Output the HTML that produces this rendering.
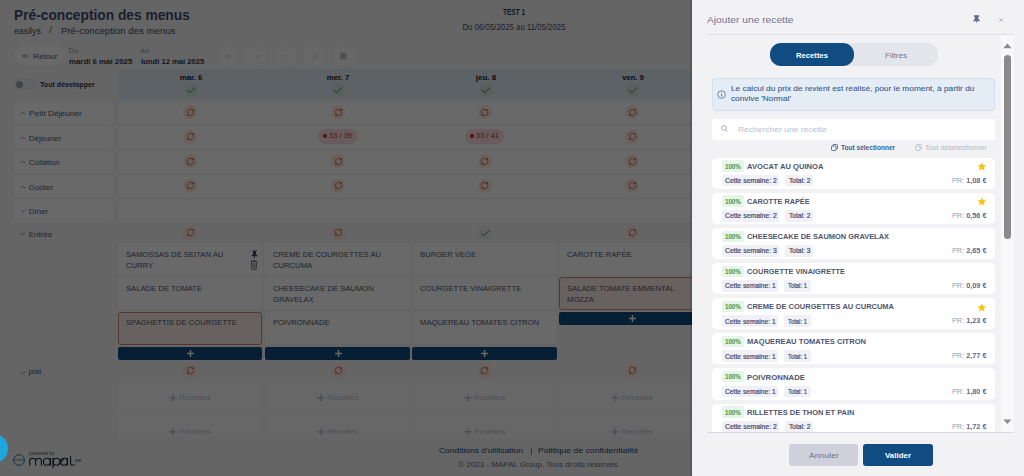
<!DOCTYPE html>
<html><head><meta charset="utf-8"><style>
html,body{margin:0;padding:0;}
body{width:1024px;height:476px;position:relative;overflow:hidden;background:#f4f4f7;font-family:"Liberation Sans", sans-serif;}
.t{position:absolute;white-space:nowrap;}
</style></head><body>
<div id="ta89820dc" class="t" style="left:14.20px;top:9.00px;font-size:13.8px;line-height:13.8px;color:#3e4b70;font-weight:700;letter-spacing:0.000px;transform:scaleX(0.9969);transform-origin:left center;"><span>Pré-conception des menus</span></div>
<div id="t060dee71" class="t" style="left:14.20px;top:27.00px;font-size:9.2px;line-height:9.2px;color:#464b60;font-weight:400;letter-spacing:0.000px;transform:scaleX(0.9539);transform-origin:left center;"><span>easilys</span></div>
<div id="t62899055" class="t" style="left:49.20px;top:26.00px;font-size:9.2px;line-height:9.2px;color:#50566e;font-weight:400;letter-spacing:0.000px;"><span>/</span></div>
<div id="t05dfdb43" class="t" style="left:61.00px;top:27.00px;font-size:9.2px;line-height:9.2px;color:#464b60;font-weight:400;letter-spacing:0.000px;transform:scaleX(1.0467);transform-origin:left center;"><span>Pré-conception des menus</span></div>
<div id="t31cc494d" class="t" style="left:214.10px;width:600px;text-align:center;top:9.00px;font-size:8.2px;line-height:8.2px;color:#1b3a60;font-weight:700;letter-spacing:0.000px;transform:scaleX(0.7995);transform-origin:center center;"><span>TEST 1</span></div>
<div id="t0df7afff" class="t" style="left:214.20px;width:600px;text-align:center;top:24.00px;font-size:8.2px;line-height:8.2px;color:#4a4f63;font-weight:400;letter-spacing:0.000px;transform:scaleX(0.9568);transform-origin:center center;"><span>Du 06/05/2025 au 11/05/2025</span></div>
<div style="position:absolute;left:13.90px;top:46.30px;width:51.80px;height:18.60px;background:#ffffff;border-radius:10px;"></div>
<svg style="position:absolute;left:21.50px;top:52.50px;" width="8" height="6" viewBox="0 0 8 6"><path d="M1 3 H7.2 M3.2 0.9 L1 3 L3.2 5.1" fill="none" stroke="#62687f" stroke-width="0.75"/></svg>
<div id="tf3fa5982" class="t" style="left:33.10px;top:53.00px;font-size:8px;line-height:8px;color:#555b73;font-weight:400;letter-spacing:0.000px;transform:scaleX(1.0243);transform-origin:left center;"><span>Retour</span></div>
<div id="t95f28382" class="t" style="left:68.60px;top:47.00px;font-size:7.8px;line-height:7.8px;color:#9a9fb2;font-weight:400;letter-spacing:0.000px;"><span>Du</span></div>
<div id="t609b806c" class="t" style="left:68.60px;top:58.00px;font-size:7.8px;line-height:7.8px;color:#343a4e;font-weight:700;letter-spacing:0.000px;transform:scaleX(1.0070);transform-origin:left center;"><span>mardi 6 mai 2025</span></div>
<div id="tc37767ce" class="t" style="left:140.60px;top:47.00px;font-size:7.8px;line-height:7.8px;color:#9a9fb2;font-weight:400;letter-spacing:0.000px;"><span>au</span></div>
<div id="taf931af7" class="t" style="left:140.60px;top:58.00px;font-size:7.8px;line-height:7.8px;color:#343a4e;font-weight:700;letter-spacing:0.000px;transform:scaleX(0.9802);transform-origin:left center;"><span>lundi 12 mai 2025</span></div>
<div style="position:absolute;left:218.30px;top:45.00px;width:22.00px;height:22.00px;background:#f9f9fb;border-radius:50%;"></div>
<div style="position:absolute;left:246.40px;top:45.00px;width:22.00px;height:22.00px;background:#f9f9fb;border-radius:50%;"></div>
<div style="position:absolute;left:275.20px;top:45.00px;width:22.00px;height:22.00px;background:#f9f9fb;border-radius:50%;"></div>
<div style="position:absolute;left:303.40px;top:45.00px;width:22.00px;height:22.00px;background:#f9f9fb;border-radius:50%;"></div>
<div style="position:absolute;left:332.00px;top:45.00px;width:22.00px;height:22.00px;background:#f9f9fb;border-radius:50%;"></div>
<svg style="position:absolute;left:226.30px;top:53.80px;" width="6" height="5" viewBox="0 0 6 5"><path d="M2.6 0.5 L0.6 2.4 L2.6 4.3 M5.0 0.5 L3.0 2.4 L5.0 4.3" fill="none" stroke="#bcc2d8" stroke-width="0.9"/></svg>
<svg style="position:absolute;left:255.80px;top:53.80px;" width="4" height="5" viewBox="0 0 4 5"><path d="M2.9 0.5 L0.9 2.4 L2.9 4.3" fill="none" stroke="#bcc2d8" stroke-width="0.9"/></svg>
<svg style="position:absolute;left:284.40px;top:53.80px;" width="4" height="5" viewBox="0 0 4 5"><path d="M1.0 0.5 L3.0 2.4 L1.0 4.3" fill="none" stroke="#bcc2d8" stroke-width="0.9"/></svg>
<svg style="position:absolute;left:311.60px;top:53.80px;" width="6" height="5" viewBox="0 0 6 5"><path d="M0.6 0.5 L2.6 2.4 L0.6 4.3 M3.0 0.5 L5.0 2.4 L3.0 4.3" fill="none" stroke="#bcc2d8" stroke-width="0.9"/></svg>
<svg style="position:absolute;left:339.50px;top:52.30px;" width="7" height="7.5" viewBox="0 0 7 7.5"><rect x="0.3" y="1.2" width="6.3" height="6" rx="0.8" fill="#bcc2d8"/><path d="M1.8 0.2 V1.8 M5.1 0.2 V1.8" stroke="#bcc2d8" stroke-width="0.8"/></svg>
<div style="position:absolute;left:13.90px;top:79.30px;width:22.00px;height:10.20px;background:#f0f0f4;border:0.6px solid #e2e3ea;border-radius:6px;box-sizing:border-box;"></div>
<div style="position:absolute;left:15.60px;top:80.50px;width:7.80px;height:7.80px;background:#a0a5b9;border-radius:50%;"></div>
<div id="t97cba002" class="t" style="left:39.80px;top:81.00px;font-size:7.7px;line-height:7.7px;color:#30364a;font-weight:700;letter-spacing:0.000px;transform:scaleX(0.9235);transform-origin:left center;"><span>Tout développer</span></div>
<div style="position:absolute;left:117.50px;top:69.40px;width:600.00px;height:29.60px;background:#e0edf6;border-radius:5px 0 0 5px;"></div>
<div id="te4d3015c" class="t" style="left:-108.80px;width:600px;text-align:center;top:74.00px;font-size:7.6px;line-height:7.6px;color:#1c2130;font-weight:700;letter-spacing:0.000px;transform:scaleX(1.0333);transform-origin:center center;"><span>mar. 6</span></div>
<div style="position:absolute;left:184.20px;top:82.70px;width:14.00px;height:14.00px;background:#d5e8e0;border-radius:50%;box-sizing:border-box;"></div>
<svg style="position:absolute;left:186.20px;top:84.70px;" width="10" height="10" viewBox="0 0 10 10"><path d="M1.5 5.5 L4.0 7.6 L8.8 2.8" fill="none" stroke="#3b5872" stroke-width="0.85" stroke-linecap="round" stroke-linejoin="round"/></svg>
<div id="ta6617321" class="t" style="left:38.40px;width:600px;text-align:center;top:74.00px;font-size:7.6px;line-height:7.6px;color:#1c2130;font-weight:700;letter-spacing:0.000px;transform:scaleX(1.0242);transform-origin:center center;"><span>mer. 7</span></div>
<div style="position:absolute;left:331.40px;top:82.70px;width:14.00px;height:14.00px;background:#d5e8e0;border-radius:50%;box-sizing:border-box;"></div>
<svg style="position:absolute;left:333.40px;top:84.70px;" width="10" height="10" viewBox="0 0 10 10"><path d="M1.5 5.5 L4.0 7.6 L8.8 2.8" fill="none" stroke="#3b5872" stroke-width="0.85" stroke-linecap="round" stroke-linejoin="round"/></svg>
<div id="td271ef08" class="t" style="left:185.60px;width:600px;text-align:center;top:74.00px;font-size:7.6px;line-height:7.6px;color:#1c2130;font-weight:700;letter-spacing:0.000px;transform:scaleX(1.0504);transform-origin:center center;"><span>jeu. 8</span></div>
<div style="position:absolute;left:478.60px;top:82.70px;width:14.00px;height:14.00px;background:#d5e8e0;border-radius:50%;box-sizing:border-box;"></div>
<svg style="position:absolute;left:480.60px;top:84.70px;" width="10" height="10" viewBox="0 0 10 10"><path d="M1.5 5.5 L4.0 7.6 L8.8 2.8" fill="none" stroke="#3b5872" stroke-width="0.85" stroke-linecap="round" stroke-linejoin="round"/></svg>
<div id="t80e0eed1" class="t" style="left:332.90px;width:600px;text-align:center;top:74.00px;font-size:7.6px;line-height:7.6px;color:#1c2130;font-weight:700;letter-spacing:0.000px;transform:scaleX(1.0032);transform-origin:center center;"><span>ven. 9</span></div>
<div style="position:absolute;left:625.90px;top:82.70px;width:14.00px;height:14.00px;background:#d5e8e0;border-radius:50%;box-sizing:border-box;"></div>
<svg style="position:absolute;left:627.90px;top:84.70px;" width="10" height="10" viewBox="0 0 10 10"><path d="M1.5 5.5 L4.0 7.6 L8.8 2.8" fill="none" stroke="#3b5872" stroke-width="0.85" stroke-linecap="round" stroke-linejoin="round"/></svg>
<div style="position:absolute;left:13.80px;top:101.80px;width:99.20px;height:21.80px;background:#ffffff;border-radius:4px;"></div>
<div style="position:absolute;left:117.50px;top:101.80px;width:600.00px;height:21.80px;background:#ffffff;border-radius:4px 0 0 4px;"></div>
<svg style="position:absolute;left:19.50px;top:110.95px;" width="6" height="4" viewBox="0 0 6 4"><path d="M0.8 3.3 L3 1 L5.2 3.3" fill="none" stroke="#858aa2" stroke-width="0.8"/></svg>
<div id="te3711d2a" class="t" style="left:28.70px;top:110.00px;font-size:8.0px;line-height:8.0px;color:#555a72;font-weight:400;letter-spacing:0.000px;transform:scaleX(1.0433);transform-origin:left center;"><span>Petit Déjeuner</span></div>
<div style="position:absolute;left:183.10px;top:105.00px;width:14.00px;height:14.00px;background:#fde8dc;border-radius:50%;"></div>
<svg style="position:absolute;left:185.60px;top:107.50px;" width="9" height="9" viewBox="0 0 9 9"><path d="M1.27 5.19 A3.3 3.3 0 0 1 6.53 1.90 M7.73 3.81 A3.3 3.3 0 0 1 2.47 7.10" fill="none" stroke="#e0503a" stroke-width="0.85"/><path d="M8.02 3.06 L7.50 0.66 L5.56 3.14 Z" fill="#e0503a"/><path d="M0.98 5.94 L1.50 8.34 L3.44 5.86 Z" fill="#e0503a"/></svg>
<div style="position:absolute;left:331.00px;top:105.00px;width:14.00px;height:14.00px;background:#fde8dc;border-radius:50%;"></div>
<svg style="position:absolute;left:333.50px;top:107.50px;" width="9" height="9" viewBox="0 0 9 9"><path d="M1.27 5.19 A3.3 3.3 0 0 1 6.53 1.90 M7.73 3.81 A3.3 3.3 0 0 1 2.47 7.10" fill="none" stroke="#e0503a" stroke-width="0.85"/><path d="M8.02 3.06 L7.50 0.66 L5.56 3.14 Z" fill="#e0503a"/><path d="M0.98 5.94 L1.50 8.34 L3.44 5.86 Z" fill="#e0503a"/></svg>
<div style="position:absolute;left:477.90px;top:105.00px;width:14.00px;height:14.00px;background:#fde8dc;border-radius:50%;"></div>
<svg style="position:absolute;left:480.40px;top:107.50px;" width="9" height="9" viewBox="0 0 9 9"><path d="M1.27 5.19 A3.3 3.3 0 0 1 6.53 1.90 M7.73 3.81 A3.3 3.3 0 0 1 2.47 7.10" fill="none" stroke="#e0503a" stroke-width="0.85"/><path d="M8.02 3.06 L7.50 0.66 L5.56 3.14 Z" fill="#e0503a"/><path d="M0.98 5.94 L1.50 8.34 L3.44 5.86 Z" fill="#e0503a"/></svg>
<div style="position:absolute;left:625.30px;top:105.00px;width:14.00px;height:14.00px;background:#fde8dc;border-radius:50%;"></div>
<svg style="position:absolute;left:627.80px;top:107.50px;" width="9" height="9" viewBox="0 0 9 9"><path d="M1.27 5.19 A3.3 3.3 0 0 1 6.53 1.90 M7.73 3.81 A3.3 3.3 0 0 1 2.47 7.10" fill="none" stroke="#e0503a" stroke-width="0.85"/><path d="M8.02 3.06 L7.50 0.66 L5.56 3.14 Z" fill="#e0503a"/><path d="M0.98 5.94 L1.50 8.34 L3.44 5.86 Z" fill="#e0503a"/></svg>
<div style="position:absolute;left:13.80px;top:126.35px;width:99.20px;height:21.80px;background:#ffffff;border-radius:4px;"></div>
<div style="position:absolute;left:117.50px;top:126.35px;width:600.00px;height:21.80px;background:#ffffff;border-radius:4px 0 0 4px;"></div>
<svg style="position:absolute;left:19.50px;top:135.50px;" width="6" height="4" viewBox="0 0 6 4"><path d="M0.8 3.3 L3 1 L5.2 3.3" fill="none" stroke="#858aa2" stroke-width="0.8"/></svg>
<div id="tca18db66" class="t" style="left:28.70px;top:135.00px;font-size:8.0px;line-height:8.0px;color:#555a72;font-weight:400;letter-spacing:0.000px;"><span>Déjeuner</span></div>
<div style="position:absolute;left:183.10px;top:129.55px;width:14.00px;height:14.00px;background:#fde8dc;border-radius:50%;"></div>
<svg style="position:absolute;left:185.60px;top:132.05px;" width="9" height="9" viewBox="0 0 9 9"><path d="M1.27 5.19 A3.3 3.3 0 0 1 6.53 1.90 M7.73 3.81 A3.3 3.3 0 0 1 2.47 7.10" fill="none" stroke="#e0503a" stroke-width="0.85"/><path d="M8.02 3.06 L7.50 0.66 L5.56 3.14 Z" fill="#e0503a"/><path d="M0.98 5.94 L1.50 8.34 L3.44 5.86 Z" fill="#e0503a"/></svg>
<div style="position:absolute;left:318.20px;top:129.05px;width:38.60px;height:14.60px;background:#fbdcdc;border-radius:8px;"></div>
<div style="position:absolute;left:323.00px;top:134.45px;width:3.80px;height:3.80px;background:#c62828;border-radius:50%;"></div>
<div id="t2a6577d5" class="t" style="left:329.10px;top:132.00px;font-size:7.4px;line-height:7.4px;color:#c93636;font-weight:400;letter-spacing:0.000px;transform:scaleX(1.0173);transform-origin:left center;"><span>33 / 39</span></div>
<div style="position:absolute;left:465.30px;top:129.05px;width:38.60px;height:14.60px;background:#fbdcdc;border-radius:8px;"></div>
<div style="position:absolute;left:470.10px;top:134.45px;width:3.80px;height:3.80px;background:#c62828;border-radius:50%;"></div>
<div id="t11b5916c" class="t" style="left:476.20px;top:132.00px;font-size:7.4px;line-height:7.4px;color:#c93636;font-weight:400;letter-spacing:0.000px;transform:scaleX(1.0173);transform-origin:left center;"><span>33 / 41</span></div>
<div style="position:absolute;left:625.30px;top:129.55px;width:14.00px;height:14.00px;background:#fde8dc;border-radius:50%;"></div>
<svg style="position:absolute;left:627.80px;top:132.05px;" width="9" height="9" viewBox="0 0 9 9"><path d="M1.27 5.19 A3.3 3.3 0 0 1 6.53 1.90 M7.73 3.81 A3.3 3.3 0 0 1 2.47 7.10" fill="none" stroke="#e0503a" stroke-width="0.85"/><path d="M8.02 3.06 L7.50 0.66 L5.56 3.14 Z" fill="#e0503a"/><path d="M0.98 5.94 L1.50 8.34 L3.44 5.86 Z" fill="#e0503a"/></svg>
<div style="position:absolute;left:13.80px;top:150.90px;width:99.20px;height:21.80px;background:#ffffff;border-radius:4px;"></div>
<div style="position:absolute;left:117.50px;top:150.90px;width:600.00px;height:21.80px;background:#ffffff;border-radius:4px 0 0 4px;"></div>
<svg style="position:absolute;left:19.50px;top:160.05px;" width="6" height="4" viewBox="0 0 6 4"><path d="M0.8 3.3 L3 1 L5.2 3.3" fill="none" stroke="#858aa2" stroke-width="0.8"/></svg>
<div id="t9a60d03d" class="t" style="left:28.70px;top:159.00px;font-size:8.0px;line-height:8.0px;color:#555a72;font-weight:400;letter-spacing:0.000px;"><span>Collation</span></div>
<div style="position:absolute;left:183.10px;top:154.10px;width:14.00px;height:14.00px;background:#fde8dc;border-radius:50%;"></div>
<svg style="position:absolute;left:185.60px;top:156.60px;" width="9" height="9" viewBox="0 0 9 9"><path d="M1.27 5.19 A3.3 3.3 0 0 1 6.53 1.90 M7.73 3.81 A3.3 3.3 0 0 1 2.47 7.10" fill="none" stroke="#e0503a" stroke-width="0.85"/><path d="M8.02 3.06 L7.50 0.66 L5.56 3.14 Z" fill="#e0503a"/><path d="M0.98 5.94 L1.50 8.34 L3.44 5.86 Z" fill="#e0503a"/></svg>
<div style="position:absolute;left:331.00px;top:154.10px;width:14.00px;height:14.00px;background:#fde8dc;border-radius:50%;"></div>
<svg style="position:absolute;left:333.50px;top:156.60px;" width="9" height="9" viewBox="0 0 9 9"><path d="M1.27 5.19 A3.3 3.3 0 0 1 6.53 1.90 M7.73 3.81 A3.3 3.3 0 0 1 2.47 7.10" fill="none" stroke="#e0503a" stroke-width="0.85"/><path d="M8.02 3.06 L7.50 0.66 L5.56 3.14 Z" fill="#e0503a"/><path d="M0.98 5.94 L1.50 8.34 L3.44 5.86 Z" fill="#e0503a"/></svg>
<div style="position:absolute;left:477.90px;top:154.10px;width:14.00px;height:14.00px;background:#fde8dc;border-radius:50%;"></div>
<svg style="position:absolute;left:480.40px;top:156.60px;" width="9" height="9" viewBox="0 0 9 9"><path d="M1.27 5.19 A3.3 3.3 0 0 1 6.53 1.90 M7.73 3.81 A3.3 3.3 0 0 1 2.47 7.10" fill="none" stroke="#e0503a" stroke-width="0.85"/><path d="M8.02 3.06 L7.50 0.66 L5.56 3.14 Z" fill="#e0503a"/><path d="M0.98 5.94 L1.50 8.34 L3.44 5.86 Z" fill="#e0503a"/></svg>
<div style="position:absolute;left:625.30px;top:154.10px;width:14.00px;height:14.00px;background:#fde8dc;border-radius:50%;"></div>
<svg style="position:absolute;left:627.80px;top:156.60px;" width="9" height="9" viewBox="0 0 9 9"><path d="M1.27 5.19 A3.3 3.3 0 0 1 6.53 1.90 M7.73 3.81 A3.3 3.3 0 0 1 2.47 7.10" fill="none" stroke="#e0503a" stroke-width="0.85"/><path d="M8.02 3.06 L7.50 0.66 L5.56 3.14 Z" fill="#e0503a"/><path d="M0.98 5.94 L1.50 8.34 L3.44 5.86 Z" fill="#e0503a"/></svg>
<div style="position:absolute;left:13.80px;top:175.45px;width:99.20px;height:21.80px;background:#ffffff;border-radius:4px;"></div>
<div style="position:absolute;left:117.50px;top:175.45px;width:600.00px;height:21.80px;background:#ffffff;border-radius:4px 0 0 4px;"></div>
<svg style="position:absolute;left:19.50px;top:184.60px;" width="6" height="4" viewBox="0 0 6 4"><path d="M0.8 3.3 L3 1 L5.2 3.3" fill="none" stroke="#858aa2" stroke-width="0.8"/></svg>
<div id="t4989e19c" class="t" style="left:28.70px;top:184.00px;font-size:8.0px;line-height:8.0px;color:#555a72;font-weight:400;letter-spacing:0.000px;"><span>Goûter</span></div>
<div style="position:absolute;left:183.10px;top:178.65px;width:14.00px;height:14.00px;background:#fde8dc;border-radius:50%;"></div>
<svg style="position:absolute;left:185.60px;top:181.15px;" width="9" height="9" viewBox="0 0 9 9"><path d="M1.27 5.19 A3.3 3.3 0 0 1 6.53 1.90 M7.73 3.81 A3.3 3.3 0 0 1 2.47 7.10" fill="none" stroke="#e0503a" stroke-width="0.85"/><path d="M8.02 3.06 L7.50 0.66 L5.56 3.14 Z" fill="#e0503a"/><path d="M0.98 5.94 L1.50 8.34 L3.44 5.86 Z" fill="#e0503a"/></svg>
<div style="position:absolute;left:331.00px;top:178.65px;width:14.00px;height:14.00px;background:#fde8dc;border-radius:50%;"></div>
<svg style="position:absolute;left:333.50px;top:181.15px;" width="9" height="9" viewBox="0 0 9 9"><path d="M1.27 5.19 A3.3 3.3 0 0 1 6.53 1.90 M7.73 3.81 A3.3 3.3 0 0 1 2.47 7.10" fill="none" stroke="#e0503a" stroke-width="0.85"/><path d="M8.02 3.06 L7.50 0.66 L5.56 3.14 Z" fill="#e0503a"/><path d="M0.98 5.94 L1.50 8.34 L3.44 5.86 Z" fill="#e0503a"/></svg>
<div style="position:absolute;left:477.90px;top:178.65px;width:14.00px;height:14.00px;background:#fde8dc;border-radius:50%;"></div>
<svg style="position:absolute;left:480.40px;top:181.15px;" width="9" height="9" viewBox="0 0 9 9"><path d="M1.27 5.19 A3.3 3.3 0 0 1 6.53 1.90 M7.73 3.81 A3.3 3.3 0 0 1 2.47 7.10" fill="none" stroke="#e0503a" stroke-width="0.85"/><path d="M8.02 3.06 L7.50 0.66 L5.56 3.14 Z" fill="#e0503a"/><path d="M0.98 5.94 L1.50 8.34 L3.44 5.86 Z" fill="#e0503a"/></svg>
<div style="position:absolute;left:625.30px;top:178.65px;width:14.00px;height:14.00px;background:#fde8dc;border-radius:50%;"></div>
<svg style="position:absolute;left:627.80px;top:181.15px;" width="9" height="9" viewBox="0 0 9 9"><path d="M1.27 5.19 A3.3 3.3 0 0 1 6.53 1.90 M7.73 3.81 A3.3 3.3 0 0 1 2.47 7.10" fill="none" stroke="#e0503a" stroke-width="0.85"/><path d="M8.02 3.06 L7.50 0.66 L5.56 3.14 Z" fill="#e0503a"/><path d="M0.98 5.94 L1.50 8.34 L3.44 5.86 Z" fill="#e0503a"/></svg>
<div style="position:absolute;left:13.80px;top:200.00px;width:99.20px;height:21.80px;background:#ffffff;border-radius:4px;"></div>
<div style="position:absolute;left:117.50px;top:200.00px;width:600.00px;height:21.80px;background:#ffffff;border-radius:4px 0 0 4px;"></div>
<svg style="position:absolute;left:19.50px;top:209.40px;" width="6" height="4" viewBox="0 0 6 4"><path d="M0.8 0.8 L3 3.1 L5.2 0.8" fill="none" stroke="#858aa2" stroke-width="0.8"/></svg>
<div id="tffb6e803" class="t" style="left:28.70px;top:208.00px;font-size:8.0px;line-height:8.0px;color:#555a72;font-weight:400;letter-spacing:0.000px;"><span>Dîner</span></div>
<svg style="position:absolute;left:19.50px;top:231.70px;" width="6" height="4" viewBox="0 0 6 4"><path d="M0.8 0.8 L3 3.1 L5.2 0.8" fill="none" stroke="#858aa2" stroke-width="0.8"/></svg>
<div id="tfeb2701d" class="t" style="left:28.70px;top:231.00px;font-size:8.0px;line-height:8.0px;color:#555a72;font-weight:400;letter-spacing:0.000px;"><span>Entrée</span></div>
<div style="position:absolute;left:183.10px;top:225.80px;width:14.00px;height:14.00px;background:#fde8dc;border-radius:50%;"></div>
<svg style="position:absolute;left:185.60px;top:228.30px;" width="9" height="9" viewBox="0 0 9 9"><path d="M1.27 5.19 A3.3 3.3 0 0 1 6.53 1.90 M7.73 3.81 A3.3 3.3 0 0 1 2.47 7.10" fill="none" stroke="#e0503a" stroke-width="0.85"/><path d="M8.02 3.06 L7.50 0.66 L5.56 3.14 Z" fill="#e0503a"/><path d="M0.98 5.94 L1.50 8.34 L3.44 5.86 Z" fill="#e0503a"/></svg>
<div style="position:absolute;left:331.00px;top:225.80px;width:14.00px;height:14.00px;background:#fde8dc;border-radius:50%;"></div>
<svg style="position:absolute;left:333.50px;top:228.30px;" width="9" height="9" viewBox="0 0 9 9"><path d="M1.27 5.19 A3.3 3.3 0 0 1 6.53 1.90 M7.73 3.81 A3.3 3.3 0 0 1 2.47 7.10" fill="none" stroke="#e0503a" stroke-width="0.85"/><path d="M8.02 3.06 L7.50 0.66 L5.56 3.14 Z" fill="#e0503a"/><path d="M0.98 5.94 L1.50 8.34 L3.44 5.86 Z" fill="#e0503a"/></svg>
<div style="position:absolute;left:477.90px;top:225.80px;width:14.00px;height:14.00px;background:#e9f3ea;border-radius:50%;box-sizing:border-box;"></div>
<svg style="position:absolute;left:479.90px;top:227.80px;" width="10" height="10" viewBox="0 0 10 10"><path d="M1.5 5.5 L4.0 7.6 L8.8 2.8" fill="none" stroke="#3b5872" stroke-width="0.85" stroke-linecap="round" stroke-linejoin="round"/></svg>
<div style="position:absolute;left:625.30px;top:225.80px;width:14.00px;height:14.00px;background:#fde8dc;border-radius:50%;"></div>
<svg style="position:absolute;left:627.80px;top:228.30px;" width="9" height="9" viewBox="0 0 9 9"><path d="M1.27 5.19 A3.3 3.3 0 0 1 6.53 1.90 M7.73 3.81 A3.3 3.3 0 0 1 2.47 7.10" fill="none" stroke="#e0503a" stroke-width="0.85"/><path d="M8.02 3.06 L7.50 0.66 L5.56 3.14 Z" fill="#e0503a"/><path d="M0.98 5.94 L1.50 8.34 L3.44 5.86 Z" fill="#e0503a"/></svg>
<div style="position:absolute;left:117.50px;top:243.20px;width:144.50px;height:31.80px;background:#ffffff;border-radius:3px;"></div>
<div id="t2aff71fd" class="t" style="left:125.50px;top:251.00px;font-size:8.0px;line-height:8.0px;color:#50556d;font-weight:400;letter-spacing:0.000px;transform:scaleX(0.9570);transform-origin:left center;"><span>SAMOSSAS DE SEITAN AU</span></div>
<div id="ta2bb0d54" class="t" style="left:125.50px;top:262.00px;font-size:8.0px;line-height:8.0px;color:#50556d;font-weight:400;letter-spacing:0.000px;transform:scaleX(0.9570);transform-origin:left center;"><span>CURRY</span></div>
<div style="position:absolute;left:117.50px;top:277.30px;width:144.50px;height:31.80px;background:#ffffff;border-radius:3px;"></div>
<div id="td7950acd" class="t" style="left:125.50px;top:285.00px;font-size:8.0px;line-height:8.0px;color:#50556d;font-weight:400;letter-spacing:0.000px;transform:scaleX(0.9570);transform-origin:left center;"><span>SALADE DE TOMATE</span></div>
<div style="position:absolute;left:117.50px;top:312.00px;width:144.50px;height:32.70px;background:#fbeee6;border:1.1px solid #d6836c;border-radius:3px;box-sizing:border-box;"></div>
<div id="te2adfee0" class="t" style="left:125.50px;top:319.00px;font-size:8.0px;line-height:8.0px;color:#50556d;font-weight:400;letter-spacing:0.000px;transform:scaleX(0.9570);transform-origin:left center;"><span>SPAGHETTIS DE COURGETTE</span></div>
<div style="position:absolute;left:117.50px;top:346.90px;width:144.50px;height:13.00px;background:#104c82;border-radius:2px;"></div>
<svg style="position:absolute;left:186.60px;top:349.80px;" width="7" height="7" viewBox="0 0 7 7"><path d="M0.1 3.5 H6.9 M3.5 0.1 V6.9" stroke="#ffffff" stroke-width="1.45"/></svg>
<div style="position:absolute;left:265.00px;top:243.20px;width:144.50px;height:31.80px;background:#ffffff;border-radius:3px;"></div>
<div id="t12dad2a6" class="t" style="left:273.00px;top:251.00px;font-size:8.0px;line-height:8.0px;color:#50556d;font-weight:400;letter-spacing:0.000px;transform:scaleX(0.9570);transform-origin:left center;"><span>CREME DE COURGETTES AU</span></div>
<div id="t9b962a5d" class="t" style="left:273.00px;top:262.00px;font-size:8.0px;line-height:8.0px;color:#50556d;font-weight:400;letter-spacing:0.000px;transform:scaleX(0.9570);transform-origin:left center;"><span>CURCUMA</span></div>
<div style="position:absolute;left:265.00px;top:277.30px;width:144.50px;height:31.80px;background:#ffffff;border-radius:3px;"></div>
<div id="tc7bd4e62" class="t" style="left:273.00px;top:285.00px;font-size:8.0px;line-height:8.0px;color:#50556d;font-weight:400;letter-spacing:0.000px;transform:scaleX(0.9570);transform-origin:left center;"><span>CHEESECAKE DE SAUMON</span></div>
<div id="t38479225" class="t" style="left:273.00px;top:296.00px;font-size:8.0px;line-height:8.0px;color:#50556d;font-weight:400;letter-spacing:0.000px;transform:scaleX(0.9570);transform-origin:left center;"><span>GRAVELAX</span></div>
<div style="position:absolute;left:265.00px;top:312.00px;width:144.50px;height:31.80px;background:#ffffff;border-radius:3px;"></div>
<div id="tc76026b2" class="t" style="left:273.00px;top:319.00px;font-size:8.0px;line-height:8.0px;color:#50556d;font-weight:400;letter-spacing:0.000px;transform:scaleX(0.9570);transform-origin:left center;"><span>POIVRONNADE</span></div>
<div style="position:absolute;left:265.00px;top:346.90px;width:144.50px;height:13.00px;background:#104c82;border-radius:2px;"></div>
<svg style="position:absolute;left:334.50px;top:349.80px;" width="7" height="7" viewBox="0 0 7 7"><path d="M0.1 3.5 H6.9 M3.5 0.1 V6.9" stroke="#ffffff" stroke-width="1.45"/></svg>
<div style="position:absolute;left:412.30px;top:243.20px;width:144.50px;height:31.80px;background:#ffffff;border-radius:3px;"></div>
<div id="tf57d0699" class="t" style="left:420.30px;top:251.00px;font-size:8.0px;line-height:8.0px;color:#50556d;font-weight:400;letter-spacing:0.000px;transform:scaleX(0.9570);transform-origin:left center;"><span>BURGER VEGE</span></div>
<div style="position:absolute;left:412.30px;top:277.30px;width:144.50px;height:31.80px;background:#ffffff;border-radius:3px;"></div>
<div id="t899cc942" class="t" style="left:420.30px;top:285.00px;font-size:8.0px;line-height:8.0px;color:#50556d;font-weight:400;letter-spacing:0.000px;transform:scaleX(0.9570);transform-origin:left center;"><span>COURGETTE VINAIGRETTE</span></div>
<div style="position:absolute;left:412.30px;top:312.00px;width:144.50px;height:31.80px;background:#ffffff;border-radius:3px;"></div>
<div id="t7b432ded" class="t" style="left:420.30px;top:319.00px;font-size:8.0px;line-height:8.0px;color:#50556d;font-weight:400;letter-spacing:0.000px;transform:scaleX(0.9570);transform-origin:left center;"><span>MAQUEREAU TOMATES CITRON</span></div>
<div style="position:absolute;left:412.30px;top:346.90px;width:144.50px;height:13.00px;background:#104c82;border-radius:2px;"></div>
<svg style="position:absolute;left:481.40px;top:349.80px;" width="7" height="7" viewBox="0 0 7 7"><path d="M0.1 3.5 H6.9 M3.5 0.1 V6.9" stroke="#ffffff" stroke-width="1.45"/></svg>
<div style="position:absolute;left:559.10px;top:243.20px;width:144.50px;height:31.80px;background:#ffffff;border-radius:3px;"></div>
<div id="tb08beb29" class="t" style="left:567.10px;top:251.00px;font-size:8.0px;line-height:8.0px;color:#50556d;font-weight:400;letter-spacing:0.000px;transform:scaleX(0.9570);transform-origin:left center;"><span>CAROTTE RAPÉE</span></div>
<div style="position:absolute;left:559.10px;top:277.30px;width:144.50px;height:32.70px;background:#fbeee6;border:1.1px solid #d6836c;border-radius:3px;box-sizing:border-box;"></div>
<div id="t90c873f9" class="t" style="left:567.10px;top:285.00px;font-size:8.0px;line-height:8.0px;color:#50556d;font-weight:400;letter-spacing:0.000px;transform:scaleX(0.9570);transform-origin:left center;"><span>SALADE TOMATE EMMENTAL</span></div>
<div id="t1f174a96" class="t" style="left:567.10px;top:296.00px;font-size:8.0px;line-height:8.0px;color:#50556d;font-weight:400;letter-spacing:0.000px;transform:scaleX(0.9570);transform-origin:left center;"><span>MOZZA</span></div>
<div style="position:absolute;left:559.10px;top:312.30px;width:144.50px;height:13.00px;background:#104c82;border-radius:2px;"></div>
<svg style="position:absolute;left:628.80px;top:315.20px;" width="7" height="7" viewBox="0 0 7 7"><path d="M0.1 3.5 H6.9 M3.5 0.1 V6.9" stroke="#ffffff" stroke-width="1.45"/></svg>
<svg style="position:absolute;left:250.50px;top:249.60px;" width="7" height="9" viewBox="0 0 7 9"><path d="M1.3 0.5 H5.7 V1.5 L5 1.6 V4 L6.4 5.6 V6.3 H3.9 V8.6 L3.5 8.9 L3.1 8.6 V6.3 H0.6 V5.6 L2 4 V1.6 L1.3 1.5 Z" fill="#474d66"/></svg>
<svg style="position:absolute;left:250.00px;top:259.80px;" width="8" height="10" viewBox="0 0 8 10"><path d="M0.6 1.6 H7.4 M2.8 1.6 V0.6 H5.2 V1.6 M1.3 1.6 L1.8 9.3 H6.2 L6.7 1.6 M3.2 3.2 V7.8 M4.8 3.2 V7.8" fill="none" stroke="#50566e" stroke-width="0.75"/></svg>
<svg style="position:absolute;left:19.50px;top:370.60px;" width="6" height="4" viewBox="0 0 6 4"><path d="M0.8 0.8 L3 3.1 L5.2 0.8" fill="none" stroke="#858aa2" stroke-width="0.8"/></svg>
<div id="t72c966e0" class="t" style="left:28.40px;top:368.00px;font-size:8.0px;line-height:8.0px;color:#555a72;font-weight:400;letter-spacing:0.000px;"><span>plat</span></div>
<div style="position:absolute;left:183.10px;top:363.60px;width:14.00px;height:14.00px;background:#fde8dc;border-radius:50%;"></div>
<svg style="position:absolute;left:185.60px;top:366.10px;" width="9" height="9" viewBox="0 0 9 9"><path d="M1.27 5.19 A3.3 3.3 0 0 1 6.53 1.90 M7.73 3.81 A3.3 3.3 0 0 1 2.47 7.10" fill="none" stroke="#e0503a" stroke-width="0.85"/><path d="M8.02 3.06 L7.50 0.66 L5.56 3.14 Z" fill="#e0503a"/><path d="M0.98 5.94 L1.50 8.34 L3.44 5.86 Z" fill="#e0503a"/></svg>
<div style="position:absolute;left:117.50px;top:380.80px;width:144.50px;height:31.40px;background:#f9f9fb;border-radius:3px;"></div>
<svg style="position:absolute;left:169.10px;top:393.90px;" width="8" height="8" viewBox="0 0 8 8"><path d="M0 3.95 H7.9 M3.95 0.2 V7.6" stroke="#b4b8c9" stroke-width="1.3"/></svg>
<div id="ta1004241" class="t" style="left:178.90px;top:394.00px;font-size:8.0px;line-height:8.0px;color:#c2c5d2;font-weight:400;letter-spacing:0.000px;transform:scaleX(0.9975);transform-origin:left center;"><span>Recettes</span></div>
<div style="position:absolute;left:117.50px;top:414.80px;width:144.50px;height:22.70px;background:#f9f9fb;border-radius:3px;"></div>
<svg style="position:absolute;left:169.10px;top:427.90px;" width="8" height="8" viewBox="0 0 8 8"><path d="M0 3.95 H7.9 M3.95 0.2 V7.6" stroke="#b4b8c9" stroke-width="1.3"/></svg>
<div id="tba72adf5" class="t" style="left:178.90px;top:428.00px;font-size:8.0px;line-height:8.0px;color:#c2c5d2;font-weight:400;letter-spacing:0.000px;transform:scaleX(0.9975);transform-origin:left center;"><span>Recettes</span></div>
<div style="position:absolute;left:331.00px;top:363.60px;width:14.00px;height:14.00px;background:#fde8dc;border-radius:50%;"></div>
<svg style="position:absolute;left:333.50px;top:366.10px;" width="9" height="9" viewBox="0 0 9 9"><path d="M1.27 5.19 A3.3 3.3 0 0 1 6.53 1.90 M7.73 3.81 A3.3 3.3 0 0 1 2.47 7.10" fill="none" stroke="#e0503a" stroke-width="0.85"/><path d="M8.02 3.06 L7.50 0.66 L5.56 3.14 Z" fill="#e0503a"/><path d="M0.98 5.94 L1.50 8.34 L3.44 5.86 Z" fill="#e0503a"/></svg>
<div style="position:absolute;left:265.00px;top:380.80px;width:144.50px;height:31.40px;background:#f9f9fb;border-radius:3px;"></div>
<svg style="position:absolute;left:317.00px;top:393.90px;" width="8" height="8" viewBox="0 0 8 8"><path d="M0 3.95 H7.9 M3.95 0.2 V7.6" stroke="#b4b8c9" stroke-width="1.3"/></svg>
<div id="t04ad75c6" class="t" style="left:326.80px;top:394.00px;font-size:8.0px;line-height:8.0px;color:#c2c5d2;font-weight:400;letter-spacing:0.000px;transform:scaleX(0.9975);transform-origin:left center;"><span>Recettes</span></div>
<div style="position:absolute;left:265.00px;top:414.80px;width:144.50px;height:22.70px;background:#f9f9fb;border-radius:3px;"></div>
<svg style="position:absolute;left:317.00px;top:427.90px;" width="8" height="8" viewBox="0 0 8 8"><path d="M0 3.95 H7.9 M3.95 0.2 V7.6" stroke="#b4b8c9" stroke-width="1.3"/></svg>
<div id="t6cc3a63d" class="t" style="left:326.80px;top:428.00px;font-size:8.0px;line-height:8.0px;color:#c2c5d2;font-weight:400;letter-spacing:0.000px;transform:scaleX(0.9975);transform-origin:left center;"><span>Recettes</span></div>
<div style="position:absolute;left:477.90px;top:363.60px;width:14.00px;height:14.00px;background:#fde8dc;border-radius:50%;"></div>
<svg style="position:absolute;left:480.40px;top:366.10px;" width="9" height="9" viewBox="0 0 9 9"><path d="M1.27 5.19 A3.3 3.3 0 0 1 6.53 1.90 M7.73 3.81 A3.3 3.3 0 0 1 2.47 7.10" fill="none" stroke="#e0503a" stroke-width="0.85"/><path d="M8.02 3.06 L7.50 0.66 L5.56 3.14 Z" fill="#e0503a"/><path d="M0.98 5.94 L1.50 8.34 L3.44 5.86 Z" fill="#e0503a"/></svg>
<div style="position:absolute;left:412.30px;top:380.80px;width:144.50px;height:31.40px;background:#f9f9fb;border-radius:3px;"></div>
<svg style="position:absolute;left:463.90px;top:393.90px;" width="8" height="8" viewBox="0 0 8 8"><path d="M0 3.95 H7.9 M3.95 0.2 V7.6" stroke="#b4b8c9" stroke-width="1.3"/></svg>
<div id="tf83cab3f" class="t" style="left:473.70px;top:394.00px;font-size:8.0px;line-height:8.0px;color:#c2c5d2;font-weight:400;letter-spacing:0.000px;transform:scaleX(0.9975);transform-origin:left center;"><span>Recettes</span></div>
<div style="position:absolute;left:412.30px;top:414.80px;width:144.50px;height:22.70px;background:#f9f9fb;border-radius:3px;"></div>
<svg style="position:absolute;left:463.90px;top:427.90px;" width="8" height="8" viewBox="0 0 8 8"><path d="M0 3.95 H7.9 M3.95 0.2 V7.6" stroke="#b4b8c9" stroke-width="1.3"/></svg>
<div id="t4ed3bf54" class="t" style="left:473.70px;top:428.00px;font-size:8.0px;line-height:8.0px;color:#c2c5d2;font-weight:400;letter-spacing:0.000px;transform:scaleX(0.9975);transform-origin:left center;"><span>Recettes</span></div>
<div style="position:absolute;left:625.30px;top:363.60px;width:14.00px;height:14.00px;background:#fde8dc;border-radius:50%;"></div>
<svg style="position:absolute;left:627.80px;top:366.10px;" width="9" height="9" viewBox="0 0 9 9"><path d="M1.27 5.19 A3.3 3.3 0 0 1 6.53 1.90 M7.73 3.81 A3.3 3.3 0 0 1 2.47 7.10" fill="none" stroke="#e0503a" stroke-width="0.85"/><path d="M8.02 3.06 L7.50 0.66 L5.56 3.14 Z" fill="#e0503a"/><path d="M0.98 5.94 L1.50 8.34 L3.44 5.86 Z" fill="#e0503a"/></svg>
<div style="position:absolute;left:559.10px;top:380.80px;width:144.50px;height:31.40px;background:#f9f9fb;border-radius:3px;"></div>
<svg style="position:absolute;left:611.30px;top:393.90px;" width="8" height="8" viewBox="0 0 8 8"><path d="M0 3.95 H7.9 M3.95 0.2 V7.6" stroke="#b4b8c9" stroke-width="1.3"/></svg>
<div id="tf1c34c1d" class="t" style="left:621.10px;top:394.00px;font-size:8.0px;line-height:8.0px;color:#c2c5d2;font-weight:400;letter-spacing:0.000px;transform:scaleX(0.9975);transform-origin:left center;"><span>Recettes</span></div>
<div style="position:absolute;left:559.10px;top:414.80px;width:144.50px;height:22.70px;background:#f9f9fb;border-radius:3px;"></div>
<svg style="position:absolute;left:611.30px;top:427.90px;" width="8" height="8" viewBox="0 0 8 8"><path d="M0 3.95 H7.9 M3.95 0.2 V7.6" stroke="#b4b8c9" stroke-width="1.3"/></svg>
<div id="tb9d94505" class="t" style="left:621.10px;top:428.00px;font-size:8.0px;line-height:8.0px;color:#c2c5d2;font-weight:400;letter-spacing:0.000px;transform:scaleX(0.9975);transform-origin:left center;"><span>Recettes</span></div>
<div id="t9f36bb69" class="t" style="left:439.00px;top:447.00px;font-size:8.0px;line-height:8.0px;color:#1c4468;font-weight:400;letter-spacing:0.000px;transform:scaleX(1.0585);transform-origin:left center;"><span>Conditions d&#39;utilisation</span></div>
<div id="tffe37a30" class="t" style="left:530.20px;top:447.00px;font-size:8.0px;line-height:8.0px;color:#1c4468;font-weight:400;letter-spacing:0.000px;"><span>|</span></div>
<div id="tf4df7a21" class="t" style="left:537.70px;top:447.00px;font-size:8.0px;line-height:8.0px;color:#1c4468;font-weight:400;letter-spacing:0.000px;transform:scaleX(1.0790);transform-origin:left center;"><span>Politique de confidentialité</span></div>
<div id="t01131e2a" class="t" style="left:238.40px;width:600px;text-align:center;top:461.00px;font-size:8.0px;line-height:8.0px;color:#6a6f80;font-weight:400;letter-spacing:0.000px;transform:scaleX(1.0007);transform-origin:center center;"><span>© 2023 - MAPAL Group. Tous droits réservés</span></div>
<svg style="position:absolute;left:12.00px;top:453.00px;" width="14" height="14" viewBox="0 0 14 14"><circle cx="7" cy="7.1" r="5.4" fill="none" stroke="#2b7f90" stroke-width="1"/><path d="M2.2 7.9 L3.8 6.2 L5.2 7.6 L6.6 5.9 L8.2 8 L9.6 6.1 L11.8 7.4" fill="none" stroke="#2b7f90" stroke-width="0.9" stroke-linejoin="round"/></svg>
<div id="td82ab723" class="t" style="left:28.90px;top:452.00px;font-size:4.7px;line-height:4.7px;color:#4f5462;font-weight:400;letter-spacing:0.000px;transform:scaleX(1.0522);transform-origin:left center;"><span>powered by</span></div>
<svg style="position:absolute;left:28.00px;top:455.00px;" width="50" height="15" viewBox="0 0 50 15"><g fill="none" stroke="#1a2233" stroke-width="1.1" stroke-linecap="round"><path d="M1.7 10.3 V5.8 C1.7 4.2 2.9 3.2 4.7 3.2 C6.5 3.2 7.6 4.2 7.6 5.8 V10.3 M7.6 5.8 C7.6 4.2 8.8 3.2 10.6 3.2 C12.4 3.2 13.4 4.2 13.4 5.8 V10.3"/><circle cx="18.9" cy="6.75" r="3.45"/><path d="M22.4 3.3 V10.3"/><path d="M25.0 3.3 V12.8"/><circle cx="28.5" cy="6.75" r="3.45"/><path d="M30.5 9.6 L35.5 4.2"/><circle cx="36.0" cy="6.75" r="3.45"/><path d="M39.5 3.3 V10.3"/><path d="M42.6 1.6 V8.6 C42.6 9.8 43.4 10.4 45.2 10.2 L46.3 9.8"/></g></svg>
<div id="t0fa08c9b" class="t" style="left:75.00px;top:458.00px;font-size:5.8px;line-height:5.8px;color:#232a38;font-weight:400;letter-spacing:0.000px;"><span>os</span></div>
<div style="position:absolute;left:0.00px;top:0.00px;width:1024.00px;height:476.00px;background:rgba(0,0,0,0.59);"></div>
<div style="position:absolute;left:-21.00px;top:434.00px;width:29.00px;height:29.00px;background:#1ea7df;border-radius:50%;"></div>
<div style="position:absolute;left:692.00px;top:0.00px;width:332.00px;height:476.00px;background:#f2f2f5;box-shadow:-1px 0 1.5px rgba(0,0,0,0.25);"></div>
<div id="tf576b4e1" class="t" style="left:706.80px;top:15.00px;font-size:9.4px;line-height:9.4px;color:#6e7396;font-weight:400;letter-spacing:0.000px;transform:scaleX(1.0919);transform-origin:left center;"><span>Ajouter une recette</span></div>
<svg style="position:absolute;left:973.00px;top:15.30px;" width="8" height="10" viewBox="0 0 8 10"><path d="M0.9 0.3 H6.3 V1.5 L5.4 1.7 V3.9 L6.9 5.5 V6.2 H4.1 L3.6 8.6 L3.1 6.2 H0.3 V5.5 L1.8 3.9 V1.7 L0.9 1.5 Z" fill="#636a8c"/></svg>
<svg style="position:absolute;left:999.20px;top:18.20px;" width="5" height="5" viewBox="0 0 5 5"><path d="M0.4 0.4 L3.8 3.8 M3.8 0.4 L0.4 3.8" stroke="#959ab5" stroke-width="0.75"/></svg>
<div style="position:absolute;left:707.00px;top:34.00px;width:307.00px;height:1.00px;background:#dddde6;"></div>
<div style="position:absolute;left:1001.00px;top:35.00px;width:13.00px;height:397.00px;background:#f8f8f8;"></div>
<svg style="position:absolute;left:1003.00px;top:42.50px;" width="9" height="6" viewBox="0 0 9 6"><path d="M0.3 5.2 L4.4 0.6 L8.5 5.2 Z" fill="#8b8b8b"/></svg>
<div style="position:absolute;left:1004.00px;top:54.50px;width:7.00px;height:184.50px;background:#8a8a8a;border-radius:3.5px;"></div>
<svg style="position:absolute;left:1003.00px;top:419.20px;" width="9" height="6" viewBox="0 0 9 6"><path d="M0.3 0.4 L4.4 5 L8.5 0.4 Z" fill="#8b8b8b"/></svg>
<div style="position:absolute;left:770.00px;top:43.40px;width:168.00px;height:22.20px;background:#e4e4eb;border-radius:11.1px;"></div>
<div style="position:absolute;left:770.00px;top:43.40px;width:84.20px;height:22.20px;background:#104c82;border-radius:11.1px;"></div>
<div id="t6d1b2efe" class="t" style="left:512.10px;width:600px;text-align:center;top:52.00px;font-size:7.8px;line-height:7.8px;color:#ffffff;font-weight:700;letter-spacing:0.000px;transform:scaleX(0.9841);transform-origin:center center;"><span>Recettes</span></div>
<div id="te3a28a2d" class="t" style="left:596.00px;width:600px;text-align:center;top:52.00px;font-size:7.8px;line-height:7.8px;color:#6f7494;font-weight:400;letter-spacing:0.000px;transform:scaleX(1.0361);transform-origin:center center;"><span>Filtres</span></div>
<div style="position:absolute;left:712.30px;top:77.60px;width:283.00px;height:33.00px;background:#e4edf6;border:0.8px solid #d3e0ee;border-radius:4px;box-sizing:border-box;"></div>
<svg style="position:absolute;left:717.20px;top:89.70px;" width="9" height="9" viewBox="0 0 9 9"><circle cx="4.5" cy="4.5" r="3.8" fill="none" stroke="#4f6f99" stroke-width="0.8"/><path d="M4.5 4 V6.6" stroke="#4f6f99" stroke-width="0.9"/><circle cx="4.5" cy="2.7" r="0.5" fill="#4f6f99"/></svg>
<div id="t9ee9c04b" class="t" style="left:730.60px;top:85.00px;font-size:7.2px;line-height:7.2px;color:#37598a;font-weight:400;letter-spacing:0.000px;transform:scaleX(1.1560);transform-origin:left center;-webkit-text-stroke:0.08px #37598a;"><span>Le calcul du prix de revient est réalisé, pour le moment, à partir du</span></div>
<div id="t529882ee" class="t" style="left:730.60px;top:95.00px;font-size:7.2px;line-height:7.2px;color:#37598a;font-weight:400;letter-spacing:0.000px;transform:scaleX(1.1476);transform-origin:left center;-webkit-text-stroke:0.08px #37598a;"><span>convive &#39;Normal&#39;</span></div>
<div style="position:absolute;left:712.30px;top:118.70px;width:283.20px;height:21.40px;background:#ffffff;border-radius:3px;"></div>
<svg style="position:absolute;left:721.00px;top:125.40px;" width="7" height="7" viewBox="0 0 7 7"><circle cx="2.9" cy="2.9" r="2.3" fill="none" stroke="#9ea3bb" stroke-width="0.9"/><path d="M4.5 4.5 L6.4 6.4" stroke="#9ea3bb" stroke-width="1"/></svg>
<div id="t952a5f17" class="t" style="left:738.00px;top:126.00px;font-size:8.0px;line-height:8.0px;color:#b9bed2;font-weight:400;letter-spacing:0.000px;transform:scaleX(1.0597);transform-origin:left center;"><span>Rechercher une recette</span></div>
<svg style="position:absolute;left:830.50px;top:144.40px;" width="7" height="7" viewBox="0 0 7 7"><rect x="2" y="0.5" width="4.5" height="4.5" rx="0.8" fill="none" stroke="#3c5a82" stroke-width="0.8"/><rect x="0.5" y="2" width="4.5" height="4.5" rx="0.8" fill="#f2f2f5" stroke="#3c5a82" stroke-width="0.8"/></svg>
<div id="tad929d4d" class="t" style="left:841.10px;top:145.00px;font-size:6.6px;line-height:6.6px;color:#45618a;font-weight:700;letter-spacing:0.000px;transform:scaleX(0.9932);transform-origin:left center;"><span>Tout sélectionner</span></div>
<svg style="position:absolute;left:914.50px;top:144.40px;" width="7" height="7" viewBox="0 0 7 7"><rect x="2" y="0.5" width="4.5" height="4.5" rx="0.8" fill="none" stroke="#b4bccc" stroke-width="0.8"/><rect x="0.5" y="2" width="4.5" height="4.5" rx="0.8" fill="#f2f2f5" stroke="#b4bccc" stroke-width="0.8"/></svg>
<div id="t4ed5aa10" class="t" style="left:925.10px;top:145.00px;font-size:6.6px;line-height:6.6px;color:#b0b8ca;font-weight:400;letter-spacing:0.000px;transform:scaleX(1.0807);transform-origin:left center;"><span>Tout déselectionner</span></div>
<div style="position:absolute;left:707px;top:35px;width:294px;height:397px;overflow:hidden;">
<div style="position:absolute;left:5.30px;top:122.50px;width:283.2px;height:31.2px;background:#fff;border-radius:5px;"></div>
<div style="position:absolute;left:14.60px;top:125.30px;width:22.3px;height:11.3px;background:#e6f5e9;border-radius:2px;"></div>
<div style="position:absolute;left:15.00px;top:139.60px;width:57.4px;height:11.9px;background:#f0f0f6;border-radius:2px;"></div>
<div style="position:absolute;left:78.20px;top:139.60px;width:28.2px;height:11.9px;background:#f0f0f6;border-radius:2px;"></div>
<svg style="position:absolute;left:269.70px;top:126.90px" width="9.7" height="9.1" viewBox="0 0 24 23"><path d="M12 0.8 L15.2 7.8 L23 8.6 L17.2 13.8 L18.8 21.6 L12 17.6 L5.2 21.6 L6.8 13.8 L1 8.6 L8.8 7.8 Z" fill="#fac314"/></svg>
<div style="position:absolute;left:5.30px;top:157.65px;width:283.2px;height:31.2px;background:#fff;border-radius:5px;"></div>
<div style="position:absolute;left:14.60px;top:160.45px;width:22.3px;height:11.3px;background:#e6f5e9;border-radius:2px;"></div>
<div style="position:absolute;left:15.00px;top:174.75px;width:57.4px;height:11.9px;background:#f0f0f6;border-radius:2px;"></div>
<div style="position:absolute;left:78.20px;top:174.75px;width:28.2px;height:11.9px;background:#f0f0f6;border-radius:2px;"></div>
<svg style="position:absolute;left:269.70px;top:162.05px" width="9.7" height="9.1" viewBox="0 0 24 23"><path d="M12 0.8 L15.2 7.8 L23 8.6 L17.2 13.8 L18.8 21.6 L12 17.6 L5.2 21.6 L6.8 13.8 L1 8.6 L8.8 7.8 Z" fill="#fac314"/></svg>
<div style="position:absolute;left:5.30px;top:192.80px;width:283.2px;height:31.2px;background:#fff;border-radius:5px;"></div>
<div style="position:absolute;left:14.60px;top:195.60px;width:22.3px;height:11.3px;background:#e6f5e9;border-radius:2px;"></div>
<div style="position:absolute;left:15.00px;top:209.90px;width:57.4px;height:11.9px;background:#f0f0f6;border-radius:2px;"></div>
<div style="position:absolute;left:78.20px;top:209.90px;width:28.2px;height:11.9px;background:#f0f0f6;border-radius:2px;"></div>
<div style="position:absolute;left:5.30px;top:227.95px;width:283.2px;height:31.2px;background:#fff;border-radius:5px;"></div>
<div style="position:absolute;left:14.60px;top:230.75px;width:22.3px;height:11.3px;background:#e6f5e9;border-radius:2px;"></div>
<div style="position:absolute;left:15.00px;top:245.05px;width:56.0px;height:11.9px;background:#f0f0f6;border-radius:2px;"></div>
<div style="position:absolute;left:76.90px;top:245.05px;width:27.5px;height:11.9px;background:#f0f0f6;border-radius:2px;"></div>
<div style="position:absolute;left:5.30px;top:263.10px;width:283.2px;height:31.2px;background:#fff;border-radius:5px;"></div>
<div style="position:absolute;left:14.60px;top:265.90px;width:22.3px;height:11.3px;background:#e6f5e9;border-radius:2px;"></div>
<div style="position:absolute;left:15.00px;top:280.20px;width:56.0px;height:11.9px;background:#f0f0f6;border-radius:2px;"></div>
<div style="position:absolute;left:76.90px;top:280.20px;width:27.5px;height:11.9px;background:#f0f0f6;border-radius:2px;"></div>
<svg style="position:absolute;left:269.70px;top:267.50px" width="9.7" height="9.1" viewBox="0 0 24 23"><path d="M12 0.8 L15.2 7.8 L23 8.6 L17.2 13.8 L18.8 21.6 L12 17.6 L5.2 21.6 L6.8 13.8 L1 8.6 L8.8 7.8 Z" fill="#fac314"/></svg>
<div style="position:absolute;left:5.30px;top:298.25px;width:283.2px;height:31.2px;background:#fff;border-radius:5px;"></div>
<div style="position:absolute;left:14.60px;top:301.05px;width:22.3px;height:11.3px;background:#e6f5e9;border-radius:2px;"></div>
<div style="position:absolute;left:15.00px;top:315.35px;width:56.0px;height:11.9px;background:#f0f0f6;border-radius:2px;"></div>
<div style="position:absolute;left:76.90px;top:315.35px;width:27.5px;height:11.9px;background:#f0f0f6;border-radius:2px;"></div>
<div style="position:absolute;left:5.30px;top:333.40px;width:283.2px;height:31.2px;background:#fff;border-radius:5px;"></div>
<div style="position:absolute;left:14.60px;top:336.20px;width:22.3px;height:11.3px;background:#e6f5e9;border-radius:2px;"></div>
<div style="position:absolute;left:15.00px;top:350.50px;width:56.0px;height:11.9px;background:#f0f0f6;border-radius:2px;"></div>
<div style="position:absolute;left:76.90px;top:350.50px;width:27.5px;height:11.9px;background:#f0f0f6;border-radius:2px;"></div>
<div style="position:absolute;left:5.30px;top:368.55px;width:283.2px;height:31.2px;background:#fff;border-radius:5px;"></div>
<div style="position:absolute;left:14.60px;top:371.35px;width:22.3px;height:11.3px;background:#e6f5e9;border-radius:2px;"></div>
<div style="position:absolute;left:15.00px;top:385.65px;width:57.4px;height:11.9px;background:#f0f0f6;border-radius:2px;"></div>
<div style="position:absolute;left:78.20px;top:385.65px;width:28.2px;height:11.9px;background:#f0f0f6;border-radius:2px;"></div>
</div>
<div style="position:absolute;left:707px;top:35px;width:294px;height:397px;overflow:hidden;"><div style="position:absolute;left:-707px;top:-35px;width:1024px;height:476px;">
<div id="t5ae493a1" class="t" style="left:724.90px;top:164.00px;font-size:6.6px;line-height:6.6px;color:#4ba05a;font-weight:700;letter-spacing:0.000px;transform:scaleX(0.9363);transform-origin:left center;-webkit-text-stroke:0.12px #4ba05a;"><span>100%</span></div>
<div id="tf711c26a" class="t" style="left:746.60px;top:163.00px;font-size:7.7px;line-height:7.7px;color:#50556f;font-weight:700;letter-spacing:0.000px;transform:scaleX(0.9915);transform-origin:left center;"><span>AVOCAT AU QUINOA</span></div>
<div id="t73a25357" class="t" style="left:724.90px;top:178.00px;font-size:6.6px;line-height:6.6px;color:#474c70;font-weight:400;letter-spacing:0.000px;transform:scaleX(1.0389);transform-origin:left center;-webkit-text-stroke:0.2px #474c70;"><span>Cette semaine: 2</span></div>
<div id="t265b856a" class="t" style="left:788.80px;top:178.00px;font-size:6.6px;line-height:6.6px;color:#474c70;font-weight:400;letter-spacing:0.000px;transform:scaleX(1.0063);transform-origin:left center;-webkit-text-stroke:0.2px #474c70;"><span>Total: 2</span></div>
<div id="t08ab1b35" class="t" style="right:37.50px;text-align:right;top:177.00px;font-size:7.3px;line-height:7.3px;color:#5f6890;font-weight:700;letter-spacing:0.000px;"><span><span style="color:#979cbb;font-weight:400">PR: </span>1,08 €</span></div>
<div id="t205df5ae" class="t" style="left:724.90px;top:199.00px;font-size:6.6px;line-height:6.6px;color:#4ba05a;font-weight:700;letter-spacing:0.000px;transform:scaleX(0.9363);transform-origin:left center;-webkit-text-stroke:0.12px #4ba05a;"><span>100%</span></div>
<div id="t758741a8" class="t" style="left:746.60px;top:198.00px;font-size:7.7px;line-height:7.7px;color:#50556f;font-weight:700;letter-spacing:0.000px;transform:scaleX(0.9516);transform-origin:left center;"><span>CAROTTE RAPÉE</span></div>
<div id="t1c32cbed" class="t" style="left:724.90px;top:213.00px;font-size:6.6px;line-height:6.6px;color:#474c70;font-weight:400;letter-spacing:0.000px;transform:scaleX(1.0389);transform-origin:left center;-webkit-text-stroke:0.2px #474c70;"><span>Cette semaine: 2</span></div>
<div id="t4d94f6b0" class="t" style="left:788.80px;top:213.00px;font-size:6.6px;line-height:6.6px;color:#474c70;font-weight:400;letter-spacing:0.000px;transform:scaleX(1.0063);transform-origin:left center;-webkit-text-stroke:0.2px #474c70;"><span>Total: 2</span></div>
<div id="t49f26185" class="t" style="right:37.50px;text-align:right;top:212.00px;font-size:7.3px;line-height:7.3px;color:#5f6890;font-weight:700;letter-spacing:0.000px;"><span><span style="color:#979cbb;font-weight:400">PR: </span>0,56 €</span></div>
<div id="t9e7282bc" class="t" style="left:724.90px;top:234.00px;font-size:6.6px;line-height:6.6px;color:#4ba05a;font-weight:700;letter-spacing:0.000px;transform:scaleX(0.9363);transform-origin:left center;-webkit-text-stroke:0.12px #4ba05a;"><span>100%</span></div>
<div id="t93646445" class="t" style="left:746.60px;top:233.00px;font-size:7.7px;line-height:7.7px;color:#50556f;font-weight:700;letter-spacing:0.000px;transform:scaleX(0.9673);transform-origin:left center;"><span>CHEESECAKE DE SAUMON GRAVELAX</span></div>
<div id="t640311da" class="t" style="left:724.90px;top:248.00px;font-size:6.6px;line-height:6.6px;color:#474c70;font-weight:400;letter-spacing:0.000px;transform:scaleX(1.0389);transform-origin:left center;-webkit-text-stroke:0.2px #474c70;"><span>Cette semaine: 3</span></div>
<div id="t099bf6bb" class="t" style="left:788.80px;top:248.00px;font-size:6.6px;line-height:6.6px;color:#474c70;font-weight:400;letter-spacing:0.000px;transform:scaleX(1.0063);transform-origin:left center;-webkit-text-stroke:0.2px #474c70;"><span>Total: 3</span></div>
<div id="tb71029f2" class="t" style="right:37.50px;text-align:right;top:247.00px;font-size:7.3px;line-height:7.3px;color:#5f6890;font-weight:700;letter-spacing:0.000px;"><span><span style="color:#979cbb;font-weight:400">PR: </span>2,65 €</span></div>
<div id="t728ed3ee" class="t" style="left:724.90px;top:269.00px;font-size:6.6px;line-height:6.6px;color:#4ba05a;font-weight:700;letter-spacing:0.000px;transform:scaleX(0.9363);transform-origin:left center;-webkit-text-stroke:0.12px #4ba05a;"><span>100%</span></div>
<div id="t676183ce" class="t" style="left:746.60px;top:268.00px;font-size:7.7px;line-height:7.7px;color:#50556f;font-weight:700;letter-spacing:0.000px;transform:scaleX(0.9600);transform-origin:left center;"><span>COURGETTE VINAIGRETTE</span></div>
<div id="tbc0007f8" class="t" style="left:724.90px;top:283.00px;font-size:6.6px;line-height:6.6px;color:#474c70;font-weight:400;letter-spacing:0.000px;transform:scaleX(1.0169);transform-origin:left center;-webkit-text-stroke:0.2px #474c70;"><span>Cette semaine: 1</span></div>
<div id="t500d9d3e" class="t" style="left:788.20px;top:283.00px;font-size:6.6px;line-height:6.6px;color:#474c70;font-weight:400;letter-spacing:0.000px;transform:scaleX(0.8888);transform-origin:left center;-webkit-text-stroke:0.2px #474c70;"><span>Total: 1</span></div>
<div id="ta556144a" class="t" style="right:37.50px;text-align:right;top:282.00px;font-size:7.3px;line-height:7.3px;color:#5f6890;font-weight:700;letter-spacing:0.000px;"><span><span style="color:#979cbb;font-weight:400">PR: </span>0,09 €</span></div>
<div id="t30187298" class="t" style="left:724.90px;top:304.00px;font-size:6.6px;line-height:6.6px;color:#4ba05a;font-weight:700;letter-spacing:0.000px;transform:scaleX(0.9363);transform-origin:left center;-webkit-text-stroke:0.12px #4ba05a;"><span>100%</span></div>
<div id="tda180c05" class="t" style="left:746.60px;top:303.00px;font-size:7.7px;line-height:7.7px;color:#50556f;font-weight:700;letter-spacing:0.000px;transform:scaleX(0.9741);transform-origin:left center;"><span>CREME DE COURGETTES AU CURCUMA</span></div>
<div id="t9431ff4f" class="t" style="left:724.90px;top:319.00px;font-size:6.6px;line-height:6.6px;color:#474c70;font-weight:400;letter-spacing:0.000px;transform:scaleX(1.0169);transform-origin:left center;-webkit-text-stroke:0.2px #474c70;"><span>Cette semaine: 1</span></div>
<div id="t67e634d6" class="t" style="left:788.20px;top:319.00px;font-size:6.6px;line-height:6.6px;color:#474c70;font-weight:400;letter-spacing:0.000px;transform:scaleX(0.8888);transform-origin:left center;-webkit-text-stroke:0.2px #474c70;"><span>Total: 1</span></div>
<div id="tad7bf9a5" class="t" style="right:37.50px;text-align:right;top:317.00px;font-size:7.3px;line-height:7.3px;color:#5f6890;font-weight:700;letter-spacing:0.000px;"><span><span style="color:#979cbb;font-weight:400">PR: </span>1,23 €</span></div>
<div id="t2cf3c951" class="t" style="left:724.90px;top:339.00px;font-size:6.6px;line-height:6.6px;color:#4ba05a;font-weight:700;letter-spacing:0.000px;transform:scaleX(0.9363);transform-origin:left center;-webkit-text-stroke:0.12px #4ba05a;"><span>100%</span></div>
<div id="tf9a1a00d" class="t" style="left:746.60px;top:338.00px;font-size:7.7px;line-height:7.7px;color:#50556f;font-weight:700;letter-spacing:0.000px;transform:scaleX(0.9833);transform-origin:left center;"><span>MAQUEREAU TOMATES CITRON</span></div>
<div id="tacdcbf3d" class="t" style="left:724.90px;top:354.00px;font-size:6.6px;line-height:6.6px;color:#474c70;font-weight:400;letter-spacing:0.000px;transform:scaleX(1.0169);transform-origin:left center;-webkit-text-stroke:0.2px #474c70;"><span>Cette semaine: 1</span></div>
<div id="t37ed1928" class="t" style="left:788.20px;top:354.00px;font-size:6.6px;line-height:6.6px;color:#474c70;font-weight:400;letter-spacing:0.000px;transform:scaleX(0.8888);transform-origin:left center;-webkit-text-stroke:0.2px #474c70;"><span>Total: 1</span></div>
<div id="t822f4e10" class="t" style="right:37.50px;text-align:right;top:352.00px;font-size:7.3px;line-height:7.3px;color:#5f6890;font-weight:700;letter-spacing:0.000px;"><span><span style="color:#979cbb;font-weight:400">PR: </span>2,77 €</span></div>
<div id="t857148db" class="t" style="left:724.90px;top:374.00px;font-size:6.6px;line-height:6.6px;color:#4ba05a;font-weight:700;letter-spacing:0.000px;transform:scaleX(0.9363);transform-origin:left center;-webkit-text-stroke:0.12px #4ba05a;"><span>100%</span></div>
<div id="t8bdc88e9" class="t" style="left:746.60px;top:374.00px;font-size:7.7px;line-height:7.7px;color:#50556f;font-weight:700;letter-spacing:0.000px;transform:scaleX(1.0131);transform-origin:left center;"><span>POIVRONNADE</span></div>
<div id="tf543862d" class="t" style="left:724.90px;top:389.00px;font-size:6.6px;line-height:6.6px;color:#474c70;font-weight:400;letter-spacing:0.000px;transform:scaleX(1.0169);transform-origin:left center;-webkit-text-stroke:0.2px #474c70;"><span>Cette semaine: 1</span></div>
<div id="t10db6100" class="t" style="left:788.20px;top:389.00px;font-size:6.6px;line-height:6.6px;color:#474c70;font-weight:400;letter-spacing:0.000px;transform:scaleX(0.8888);transform-origin:left center;-webkit-text-stroke:0.2px #474c70;"><span>Total: 1</span></div>
<div id="tcb64fd1f" class="t" style="right:37.50px;text-align:right;top:388.00px;font-size:7.3px;line-height:7.3px;color:#5f6890;font-weight:700;letter-spacing:0.000px;"><span><span style="color:#979cbb;font-weight:400">PR: </span>1,80 €</span></div>
<div id="tcd5bec62" class="t" style="left:724.90px;top:410.00px;font-size:6.6px;line-height:6.6px;color:#4ba05a;font-weight:700;letter-spacing:0.000px;transform:scaleX(0.9363);transform-origin:left center;-webkit-text-stroke:0.12px #4ba05a;"><span>100%</span></div>
<div id="t5634e1b5" class="t" style="left:746.60px;top:409.00px;font-size:7.7px;line-height:7.7px;color:#50556f;font-weight:700;letter-spacing:0.000px;transform:scaleX(0.9730);transform-origin:left center;"><span>RILLETTES DE THON ET PAIN</span></div>
<div id="t5484e331" class="t" style="left:724.90px;top:424.00px;font-size:6.6px;line-height:6.6px;color:#474c70;font-weight:400;letter-spacing:0.000px;transform:scaleX(1.0389);transform-origin:left center;-webkit-text-stroke:0.2px #474c70;"><span>Cette semaine: 2</span></div>
<div id="tcffe6d26" class="t" style="left:788.80px;top:424.00px;font-size:6.6px;line-height:6.6px;color:#474c70;font-weight:400;letter-spacing:0.000px;transform:scaleX(1.0063);transform-origin:left center;-webkit-text-stroke:0.2px #474c70;"><span>Total: 2</span></div>
<div id="tfc40ad14" class="t" style="right:37.50px;text-align:right;top:423.00px;font-size:7.3px;line-height:7.3px;color:#5f6890;font-weight:700;letter-spacing:0.000px;"><span><span style="color:#979cbb;font-weight:400">PR: </span>1,72 €</span></div>
</div></div>
<div style="position:absolute;left:707.00px;top:431.60px;width:307.00px;height:1.00px;background:#d8d8e2;"></div>
<div style="position:absolute;left:788.80px;top:443.70px;width:69.40px;height:22.30px;background:#d0d0dd;border-radius:3px;"></div>
<div id="t6f1885aa" class="t" style="left:523.50px;width:600px;text-align:center;top:452.00px;font-size:8.0px;line-height:8.0px;color:#6e7088;font-weight:400;letter-spacing:0.000px;transform:scaleX(1.0878);transform-origin:center center;"><span>Annuler</span></div>
<div style="position:absolute;left:862.80px;top:443.70px;width:70.20px;height:22.30px;background:#104c82;border-radius:3px;"></div>
<div id="t5f81bc37" class="t" style="left:597.90px;width:600px;text-align:center;top:452.00px;font-size:8.0px;line-height:8.0px;color:#ffffff;font-weight:700;letter-spacing:0.000px;transform:scaleX(0.9905);transform-origin:center center;"><span>Valider</span></div>
</body></html>
